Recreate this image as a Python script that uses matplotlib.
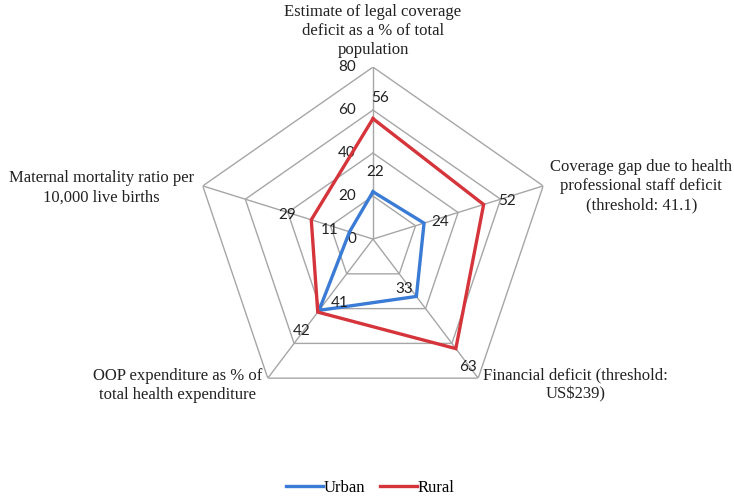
import numpy as np
import matplotlib
matplotlib.use("Agg")
import matplotlib.pyplot as plt

categories = [
    "Estimate of legal coverage\ndeficit as a % of total\npopulation",
    "Coverage gap due to health\nprofessional staff deficit\n(threshold: 41.1)",
    "Financial deficit (threshold:\nUS$239)",
    "OOP expenditure as % of\ntotal health expenditure",
    "Maternal mortality ratio per\n10,000 live births",
]
urban = [22, 24, 33, 41, 11]
rural = [56, 52, 63, 42, 29]
ring_ticks = [0, 20, 40, 60, 80]

# style
URBAN_COLOR = "#3A7BD5"
RURAL_COLOR = "#D6343B"
GRID_COLOR = "#A6A6A6"
SERIF = ["Liberation Serif", "DejaVu Serif"]
NUMFONT = ["Lato", "DejaVu Sans"]

# label placement (offsets in pixels from each anchor)
cat_offsets = [(0, 9), (98, 0), (97, -7), (-90, -7), (-101, -2)]
cat_align = [("center", "bottom"), ("center", "center"), ("center", "center"),
             ("center", "center"), ("center", "center")]
urban_offsets = [(2, 20), (16, 1), (-12, 7), (21, 7), (-20, 2)]
rural_offsets = [(7, 21), (23, 4), (12, -18), (-16, -19), (-24, 5)]

fig = plt.figure(figsize=(7.34, 4.97), dpi=100)
ax = fig.add_axes([0.2643, 0.173, 0.4877, 0.692], projection="polar")
ax.set_aspect("auto")
ax.set_theta_offset(np.pi / 2)
ax.set_theta_direction(-1)
ax.set_ylim(0, ring_ticks[-1])
ax.grid(False)
ax.spines["polar"].set_visible(False)
ax.set_xticks([])
ax.set_yticks([])
ax.patch.set_visible(False)

n = len(categories)
theta = np.linspace(0, 2 * np.pi, n, endpoint=False)
theta_closed = np.append(theta, theta[0])

# pentagon grid
for r in ring_ticks[1:]:
    ax.plot(theta_closed, [r] * (n + 1), color=GRID_COLOR, lw=1.0, zorder=1)
for t in theta:
    ax.plot([t, t], [0, ring_ticks[-1]], color=GRID_COLOR, lw=1.0, zorder=1)

# ring value labels along the top spoke
for r in ring_ticks:
    ax.annotate(str(r), xy=(0, r), xytext=(-17, 0), textcoords="offset pixels",
                ha="right", va="center", fontsize=11, family=NUMFONT, color="#222222")

# series
ax.plot(theta_closed, urban + urban[:1], color=URBAN_COLOR, lw=2.4, zorder=3,
        label="Urban", solid_joinstyle="miter")
ax.plot(theta_closed, rural + rural[:1], color=RURAL_COLOR, lw=2.4, zorder=3,
        label="Rural", solid_joinstyle="miter")

for t, v, off in zip(theta, urban, urban_offsets):
    ax.annotate(str(v), xy=(t, v), xytext=off, textcoords="offset pixels",
                ha="center", va="center", fontsize=11, family=NUMFONT, color="#222222")
for t, v, off in zip(theta, rural, rural_offsets):
    ax.annotate(str(v), xy=(t, v), xytext=off, textcoords="offset pixels",
                ha="center", va="center", fontsize=11, family=NUMFONT, color="#222222")

# category labels
for t, label, off, (ha, va) in zip(theta, categories, cat_offsets, cat_align):
    ax.annotate(label, xy=(t, ring_ticks[-1]), xytext=off, textcoords="offset pixels",
                ha=ha, va=va, multialignment="center", fontsize=12, family=SERIF,
                color="#222222", linespacing=1.25, annotation_clip=False)

fig.legend(loc="center", bbox_to_anchor=(0.505, 0.018), ncol=2, frameon=False,
           prop={"family": SERIF, "size": 12}, handlelength=2.2, handletextpad=0.05,
           columnspacing=0.9)

fig.savefig("out.png", dpi=100, facecolor="white")
